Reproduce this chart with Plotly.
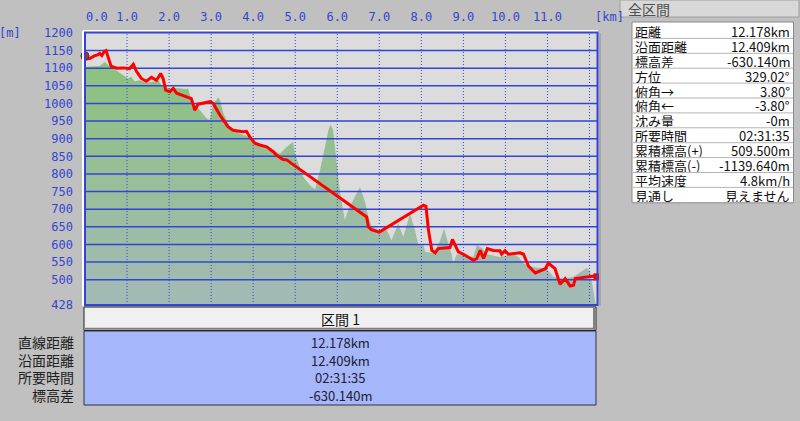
import plotly.graph_objects as go

# ---------------- data ----------------
route_km = [0.00, 0.03, 0.12, 0.22, 0.30, 0.35, 0.40, 0.46, 0.50, 0.55, 0.62, 0.75, 0.90, 1.06,
            1.12, 1.15, 1.22, 1.34, 1.46, 1.58, 1.70, 1.80, 1.86, 1.92, 2.02, 2.10, 2.18, 2.41,
            2.53, 2.61, 2.69, 2.85, 2.97, 3.05, 3.21, 3.40, 3.52, 3.76, 3.84, 3.92, 4.04, 4.16,
            4.32, 4.48, 4.56, 4.71, 4.80, 4.91, 6.70, 6.74, 6.81, 7.00, 8.05, 8.11, 8.17, 8.25,
            8.33, 8.40, 8.68, 8.74, 8.80, 8.88, 9.00, 9.24, 9.32, 9.40, 9.48, 9.57, 9.71, 9.87,
            9.91, 9.99, 10.07, 10.35, 10.43, 10.55, 10.71, 10.83, 10.95, 11.02, 11.10, 11.18,
            11.30, 11.42, 11.54, 11.62, 11.66, 11.94, 12.10, 12.178]
route_m = [1135, 1126, 1128, 1135, 1138, 1142, 1136, 1148, 1150, 1130, 1106, 1100, 1101, 1099,
           1108, 1111, 1092, 1071, 1063, 1074, 1066, 1085, 1070, 1038, 1033, 1043, 1029, 1019,
           1014, 981, 998, 1002, 1005, 1000, 967, 934, 924, 920, 921, 905, 887, 882,
           877, 863, 853, 841, 840, 830, 678, 650, 642, 635, 711, 708, 640, 583,
           576, 588, 591, 614, 598, 579, 572, 555, 560, 583, 560, 588, 583, 582,
           572, 582, 572, 576, 572, 538, 519, 525, 531, 547, 538, 531,
           487, 503, 482, 484, 503, 508, 510, 508]

terrain_km = [0.00, 0.35, 0.47, 0.55, 0.67, 0.90, 1.02, 1.10, 1.18, 1.30, 1.46, 1.62, 1.74, 1.82,
              1.90, 2.10, 2.25, 2.41, 2.45, 2.53, 2.73, 2.89, 2.97, 3.05, 3.17, 3.21, 3.29, 3.45,
              3.68, 3.88, 4.00, 4.08, 4.32, 4.64, 4.80, 4.95, 4.99, 5.07, 5.19, 5.35, 5.47, 5.59,
              5.70, 5.79, 5.84, 5.90, 5.98, 6.06, 6.18, 6.26, 6.38, 6.54, 6.66, 6.74, 6.82, 7.02,
              7.18, 7.29, 7.45, 7.57, 7.73, 7.85, 7.93, 8.05, 8.09, 8.29, 8.45, 8.54, 8.64, 8.72,
              8.76, 8.84, 9.00, 9.08, 9.24, 9.32, 9.44, 9.56, 9.87, 10.19, 10.31, 10.43, 10.67,
              10.98, 11.14, 11.38, 11.62, 11.78, 11.94, 12.02, 12.10, 12.14, 12.178]
terrain_m = [1104, 1106, 1118, 1109, 1100, 1081, 1071, 1076, 1062, 1066, 1058, 1062, 1066, 1052,
             1043, 1043, 1043, 1040, 1043, 1010, 981, 958, 953, 1000, 1017, 1010, 972, 934,
             915, 906, 896, 885, 872, 858, 877, 891, 858, 830, 792, 768, 756, 811,
             877, 924, 940, 925, 839, 754, 669, 697, 726, 763, 721, 678, 650, 640,
             640, 612, 659, 621, 688, 640, 598, 598, 579, 575, 612, 645, 602, 572,
             546, 572, 572, 564, 566, 598, 590, 572, 564, 572, 564, 546, 536,
             531, 508, 503, 508, 522, 534, 522, 460, 433, 428]

x_tick_km = [0, 1, 2, 3, 4, 5, 6, 7, 8, 9, 10, 11]
x_tick_labels = ["0.0", "1.0", "2.0", "3.0", "4.0", "5.0", "6.0", "7.0", "8.0", "9.0", "10.0", "11.0"]
x_grid_km = [1, 2, 3, 4, 5, 6, 7, 8, 9, 10, 11, 12]
y_tick_vals = [428, 500, 550, 600, 650, 700, 750, 800, 850, 900, 950, 1000, 1050, 1100, 1150, 1200]
y_tick_labels = ["428", "500", "550", "600", "650", "700", "750", "800", "850", "900", "950",
                 "1000", "1050", "1100", "1150", "1200"]
y_grid_vals = [500, 550, 600, 650, 700, 750, 800, 850, 900, 950, 1000, 1050, 1100, 1150]

x_max_km = 12.178
y_min, y_max = 428, 1200

panel_title = "全区間"
panel_labels = ["距離", "沿面距離", "標高差", "方位", "俯角→", "俯角←", "沈み量", "所要時間",
                "累積標高(+)", "累積標高(-)", "平均速度", "見通し"]
panel_values = ["12.178km", "12.409km", "-630.140m", "329.02°", "3.80°", "-3.80°", "-0m",
                "02:31:35", "509.500m", "-1139.640m", "4.8km/h", "見えません"]

section_title = "区間 1"
section_labels = ["直線距離", "沿面距離", "所要時間", "標高差"]
section_values = ["12.178km", "12.409km", "02:31:35", "-630.140m"]

# ---------------- geometry helpers (pixel -> paper) ----------------
W, H = 800, 421
L, R, T, B = 85, 597, 33, 305


def fx(p):
    return (p - L) / (R - L)


def fy(p):
    return (B - p) / (B - T)


BLUE = "#3444d2"
JP = "Noto Sans CJK JP"
MONO = "DejaVu Sans Mono"

fig = go.Figure()

# terrain fill
fig.add_trace(go.Scatter(
    x=terrain_km, y=terrain_m, mode="lines",
    line=dict(width=0, color="rgba(0,0,0,0)"),
    fill="tozeroy",
    fillgradient=dict(type="vertical", colorscale=[[0, "#a3bab6"], [1, "#8bc27b"]],
                      start=y_min, stop=1150),
    hoverinfo="skip", showlegend=False))

# horizontal grid (drawn above terrain, below route)
gx, gy = [], []
for v in y_grid_vals:
    gx += [0, x_max_km, None]
    gy += [v, v, None]
fig.add_trace(go.Scatter(x=gx, y=gy, mode="lines", line=dict(color=BLUE, width=1.5),
                         hoverinfo="skip", showlegend=False, cliponaxis=False))

# vertical dotted grid
vx, vy = [], []
for k in x_grid_km:
    vx += [k, k, None]
    vy += [y_min, y_max, None]
fig.add_trace(go.Scatter(x=vx, y=vy, mode="lines", line=dict(color=BLUE, width=1, dash="1px,2px"),
                         hoverinfo="skip", showlegend=False))

# route
fig.add_trace(go.Scatter(x=route_km, y=route_m, mode="lines",
                         line=dict(color="#ff0000", width=3), hoverinfo="skip", showlegend=False))
fig.add_trace(go.Scatter(x=[route_km[-1]], y=[route_m[-1]], mode="markers",
                         marker=dict(symbol="square", size=7, color="#ff0000"),
                         hoverinfo="skip", showlegend=False, cliponaxis=False))
fig.add_trace(go.Scatter(x=[route_km[0]], y=[route_m[0]], mode="markers",
                         marker=dict(symbol="circle", size=8, color="#b03030",
                                     line=dict(color="#503020", width=1)),
                         hoverinfo="skip", showlegend=False, cliponaxis=False))

# label positions for x ticks (first label nudged inside like the original)
x_tick_pos = [max(k, 0.28) for k in x_tick_km]

shapes = []
# plot frame: white highlight + blue border + dark shadow
shapes.append(dict(type="line", xref="paper", yref="paper", x0=fx(83), x1=fx(598), y0=fy(31), y1=fy(31),
                   line=dict(color="#ffffff", width=2)))
shapes.append(dict(type="line", xref="paper", yref="paper", x0=fx(83), x1=fx(83), y0=fy(31), y1=fy(306),
                   line=dict(color="#ffffff", width=2)))
shapes.append(dict(type="rect", xref="paper", yref="paper", x0=fx(85), x1=fx(597.5), y0=fy(32.5), y1=fy(305),
                   line=dict(color=BLUE, width=2), layer="above"))
shapes.append(dict(type="rect", xref="paper", yref="paper", x0=fx(599), x1=fx(601), y0=fy(33), y1=fy(306),
                   line=dict(width=0), fillcolor="#a8a8a8"))

# right panel title bar
shapes.append(dict(type="rect", xref="paper", yref="paper", x0=fx(620), x1=fx(799), y0=fy(0), y1=fy(17),
                   line=dict(color="#a0a0a0", width=1), fillcolor="#d8d8d8"))
# right panel body
p_top, p_row = 23.5, 14.9
shapes.append(dict(type="rect", xref="paper", yref="paper", x0=fx(632), x1=fx(793.5),
                   y0=fy(22), y1=fy(p_top + 12 * p_row + 0.5),
                   line=dict(color="#8a8a8a", width=1), fillcolor="#ffffff"))
for i in range(1, 12):
    yy = p_top + i * p_row
    shapes.append(dict(type="line", xref="paper", yref="paper", x0=fx(633), x1=fx(793),
                       y0=fy(yy), y1=fy(yy), line=dict(color="#b4b4b4", width=1)))

# bottom section header
shapes.append(dict(type="rect", xref="paper", yref="paper", x0=fx(84), x1=fx(596), y0=fy(307), y1=fy(330.5),
                   line=dict(color="#202020", width=1), fillcolor="#f0f0f0"))
shapes.append(dict(type="line", xref="paper", yref="paper", x0=fx(594), x1=fx(594), y0=fy(308), y1=fy(329.5),
                   line=dict(color="#808080", width=2)))
shapes.append(dict(type="line", xref="paper", yref="paper", x0=fx(85), x1=fx(595), y0=fy(328.8), y1=fy(328.8),
                   line=dict(color="#808080", width=2)))
# bottom section blue table
shapes.append(dict(type="rect", xref="paper", yref="paper", x0=fx(84), x1=fx(596), y0=fy(331), y1=fy(405),
                   line=dict(color="#303048", width=1), fillcolor="#a5b6fb"))

annotations = []
annotations.append(dict(text="[m]", xref="paper", yref="paper", x=fx(10), y=fy(33), showarrow=False,
                        font=dict(family=MONO, size=12, color=BLUE), xanchor="center", yanchor="middle"))
annotations.append(dict(text="[km]", xref="paper", yref="paper", x=fx(609), y=fy(17), showarrow=False,
                        font=dict(family=MONO, size=12, color=BLUE), xanchor="center", yanchor="middle"))
annotations.append(dict(text=panel_title, xref="paper", yref="paper", x=fx(626), y=fy(9), showarrow=False,
                        font=dict(family=JP, size=14, color="#505050"), xanchor="left", yanchor="middle"))
for i, (lab, val) in enumerate(zip(panel_labels, panel_values)):
    yc = p_top + (i + 0.5) * p_row
    annotations.append(dict(text=lab, xref="paper", yref="paper", x=fx(634), y=fy(yc), showarrow=False,
                            font=dict(family=JP, size=13, color="#101010"), xanchor="left", yanchor="middle",
                            height=14, borderpad=0))
    annotations.append(dict(text=val, xref="paper", yref="paper", x=fx(791), y=fy(yc), showarrow=False,
                            font=dict(family=JP, size=13, color="#101010"), xanchor="right", yanchor="middle",
                            height=14, borderpad=0))

annotations.append(dict(text=section_title, xref="paper", yref="paper", x=fx(340), y=fy(319), showarrow=False,
                        font=dict(family=JP, size=14, color="#101010"), xanchor="center", yanchor="middle"))
sec_rows = [341.5, 359.5, 377, 395]
for yc, lab, val in zip(sec_rows, section_labels, section_values):
    annotations.append(dict(text=lab, xref="paper", yref="paper", x=fx(75), y=fy(yc), showarrow=False,
                            font=dict(family=JP, size=14, color="#202020"), xanchor="right", yanchor="middle",
                            height=16, borderpad=0))
    annotations.append(dict(text=val, xref="paper", yref="paper", x=fx(340), y=fy(yc), showarrow=False,
                            font=dict(family=JP, size=13, color="#202030"), xanchor="center", yanchor="middle",
                            height=16, borderpad=0))

fig.update_layout(
    width=W, height=H,
    margin=dict(l=L, r=W - R, t=T, b=H - B, pad=0, autoexpand=False),
    paper_bgcolor="#c0c0c0",
    plot_bgcolor="#dcdcdc",
    showlegend=False,
    xaxis=dict(range=[0, x_max_km], side="top", tickmode="array", tickvals=x_tick_pos,
               ticktext=x_tick_labels, showgrid=False, zeroline=False, showline=False, ticks="",
               tickfont=dict(family=MONO, size=12, color=BLUE), ticklabelstandoff=9, fixedrange=True),
    yaxis=dict(range=[y_min, y_max], tickmode="array", tickvals=y_tick_vals, ticktext=y_tick_labels,
               showgrid=False, zeroline=False, showline=False, ticks="",
               tickfont=dict(family=MONO, size=12, color=BLUE), ticklabelstandoff=11, fixedrange=True),
    shapes=shapes,
    annotations=annotations,
)

fig.write_html("out.html", config={"displayModeBar": False},
               post_script="document.body.style.margin='0';document.body.style.overflow='hidden';")
